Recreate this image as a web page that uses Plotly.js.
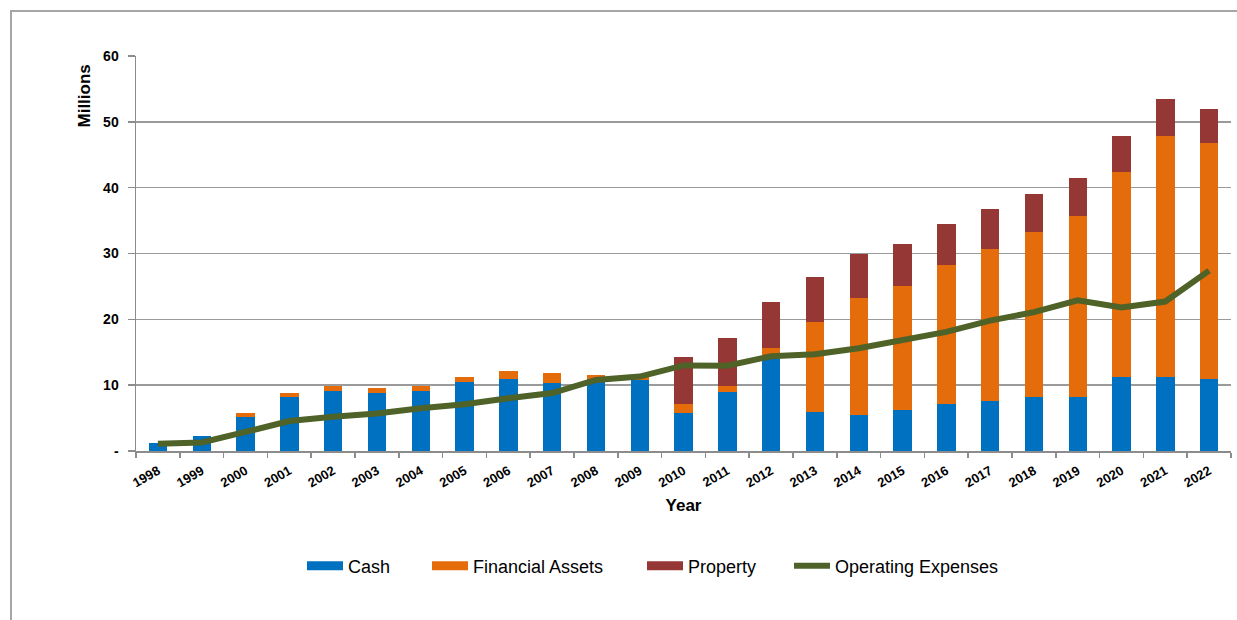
<!DOCTYPE html>
<html>
<head>
<meta charset="utf-8">
<script src="https://cdn.plot.ly/plotly-3.0.1.min.js"></script>
<style>
  html, body { margin: 0; padding: 0; background: #fff; }
  #wrap { position: relative; width: 1237px; height: 620px; }
  #chart { position: absolute; left: 0; top: 0; width: 1237px; height: 620px; }
  #frame { position: absolute; left: 10px; top: 10px; width: 1227px; height: 610px;
           border-top: 2px solid #a6a6a6; border-left: 2px solid #a6a6a6; box-sizing: border-box; pointer-events: none; }
</style>
</head>
<body>
<div id="wrap">
  <div id="chart"></div>
  <div id="frame"></div>
</div>
<script>
const years = ['1998','1999','2000','2001','2002','2003','2004','2005','2006','2007','2008','2009','2010',
               '2011','2012','2013','2014','2015','2016','2017','2018','2019','2020','2021','2022'];
// Stack components (millions)
const cash = [1.25, 2.3, 5.1, 8.15, 9.1, 8.8, 9.1, 10.45, 10.9, 10.4, 11.0, 10.8, 5.75,
              9.0, 13.9, 6.0, 5.45, 6.2, 7.1, 7.6, 8.2, 8.2, 11.3, 11.3, 11.0];
const financialAssets = [0, 0, 0.6, 0.6, 0.8, 0.8, 0.8, 0.8, 1.2, 1.4, 0.5, 0.6, 1.35,
              0.9, 1.8, 13.6, 17.75, 18.9, 21.1, 23.05, 25.0, 27.5, 31.05, 36.6, 35.8];
const property = [0, 0, 0, 0, 0, 0, 0, 0, 0, 0, 0, 0, 7.2,
              7.2, 6.9, 6.9, 6.7, 6.4, 6.35, 6.15, 5.8, 5.8, 5.55, 5.5, 5.2];
const operatingExpenses = [1.1, 1.3, 2.9, 4.55, 5.2, 5.7, 6.5, 7.1, 8.0, 8.8, 10.8, 11.3, 13.0,
              12.95, 14.4, 14.7, 15.6, 16.9, 18.1, 19.8, 21.1, 22.9, 21.8, 22.7, 27.4];
const yTickVals = [0, 10, 20, 30, 40, 50, 60];
const yTickText = ['-', '10', '20', '30', '40', '50', '60'];
const seriesNames = ['Cash', 'Financial Assets', 'Property', 'Operating Expenses'];

const FONT = 'Liberation Sans, Arial, sans-serif';
const COLORS = ['#0070C0', '#E46C0A', '#953735', '#4F6228'];
const barW = 0.42;

const traces = [
  { type: 'bar', name: seriesNames[0], x: years, y: cash, marker: { color: COLORS[0] }, width: barW, showlegend: false, legendgroup: 'a' },
  { type: 'bar', name: seriesNames[1], x: years, y: financialAssets, marker: { color: COLORS[1] }, width: barW, showlegend: false, legendgroup: 'b' },
  { type: 'bar', name: seriesNames[2], x: years, y: property, marker: { color: COLORS[2] }, width: barW, showlegend: false, legendgroup: 'c' },
  { type: 'scatter', mode: 'lines', name: seriesNames[3], x: years, y: operatingExpenses,
    line: { color: COLORS[3], width: 6 }, legend: 'legend4' },
  // legend keys for the bar series (wide rectangles like the original)
  { type: 'scatter', mode: 'lines', name: seriesNames[0], x: [null], y: [null], line: { color: COLORS[0], width: 9 }, legend: 'legend', legendgroup: 'a' },
  { type: 'scatter', mode: 'lines', name: seriesNames[1], x: [null], y: [null], line: { color: COLORS[1], width: 9 }, legend: 'legend2', legendgroup: 'b' },
  { type: 'scatter', mode: 'lines', name: seriesNames[2], x: [null], y: [null], line: { color: COLORS[2], width: 9 }, legend: 'legend3', legendgroup: 'c' }
];

const PL = 136, PW = 1095;
const legY = -0.2911;
function leg(px) {
  return { orientation: 'h', x: (px - PL) / PW, xanchor: 'left', y: legY, yanchor: 'middle',
           itemwidth: 36,
           font: { family: FONT, size: 18, color: '#000' }, bgcolor: 'rgba(0,0,0,0)' };
}

const layout = {
  width: 1237, height: 620,
  margin: { l: PL, r: 1237 - PL - PW, t: 56, b: 169 },
  barmode: 'stack',
  paper_bgcolor: 'rgba(0,0,0,0)',
  plot_bgcolor: '#fff',
  font: { family: FONT, color: '#000' },
  showlegend: true,
  legend: leg(302),
  legend2: leg(427),
  legend3: leg(642),
  legend4: leg(789),
  xaxis: {
    type: 'category',
    tickangle: -30,
    tickfont: { family: FONT, size: 13, color: '#000', weight: 'bold' },
    ticks: 'outside', tickson: 'boundaries', ticklen: 5, tickcolor: '#8c8c8c', tickwidth: 1.5,
    ticklabelstandoff: 6,
    showline: true, linecolor: '#8c8c8c', linewidth: 1.5,
    showgrid: false,
    title: { text: 'Year', font: { family: FONT, size: 17, color: '#000', weight: 'bold' }, standoff: 10 }
  },
  yaxis: {
    range: [0, 60],
    tickvals: yTickVals, ticktext: yTickText,
    tickfont: { family: FONT, size: 14, color: '#000', weight: 'bold' },
    ticks: 'outside', ticklen: 7, tickcolor: '#8c8c8c', tickwidth: 1.5,
    ticklabelstandoff: 6,
    showline: true, linecolor: '#8c8c8c', linewidth: 1.5,
    showgrid: true, gridcolor: '#9a9a9a', gridwidth: 1.5,
    zeroline: false
  },
  annotations: [
    { text: 'Millions', xref: 'paper', yref: 'paper', x: 0, y: 1, xanchor: 'center', yanchor: 'top',
      xshift: -52, yshift: -7, textangle: -90, showarrow: false,
      font: { family: FONT, size: 17, color: '#000', weight: 'bold' } }
  ]
};

Plotly.newPlot('chart', traces, layout, { displayModeBar: false, staticPlot: true });
</script>
</body>
</html>
